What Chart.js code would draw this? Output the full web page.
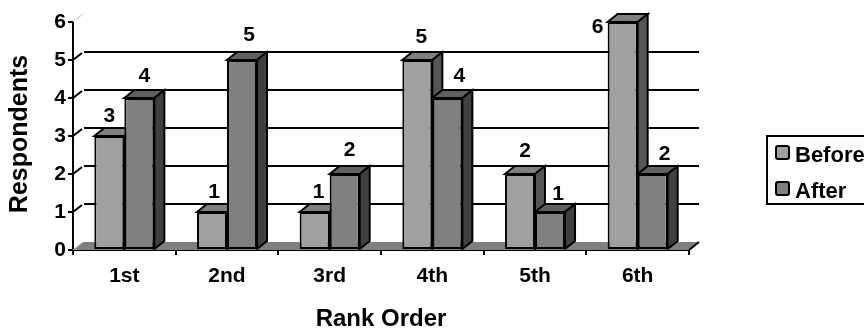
<!DOCTYPE html>
<html>
<head>
<meta charset="utf-8">
<title>Rank Order</title>
<script src="https://cdn.jsdelivr.net/npm/chart.js@4/dist/chart.umd.min.js"></script>
<style>
  html, body { margin: 0; padding: 0; background: #fff; overflow: hidden; }
  #wrap { width: 864px; height: 329px; }
</style>
</head>
<body>
<div id="wrap"><canvas id="rankChart"></canvas></div>
<script>
const rankLabels = ['1st', '2nd', '3rd', '4th', '5th', '6th'];
const beforeValues = [3, 1, 1, 5, 2, 6];
const afterValues = [4, 5, 2, 4, 1, 2];
const yTicks = [0, 1, 2, 3, 4, 5, 6];

const FONT = '"Liberation Sans", Arial, sans-serif';
const DEPTH_X = 10;
const DEPTH_Y = 8;

// Nudges for the value labels, relative to the top-centre of each bar
const beforeLabelShift = [[0, 1], [2, 1], [4, 1], [4, -2], [5, -2], [-25, 26]];
const afterLabelShift = [[5, -1], [7, -4], [5, -3], [12, -1], [8, 3], [12, 1]];

function polygon(ctx, pts, fill, stroke) {
    ctx.beginPath();
    pts.forEach((p, i) => i ? ctx.lineTo(p[0], p[1]) : ctx.moveTo(p[0], p[1]));
    ctx.closePath();
    ctx.fillStyle = fill;
    ctx.fill();
    if (stroke) {
        ctx.strokeStyle = stroke;
        ctx.lineWidth = 2;
        ctx.lineJoin = 'miter';
        ctx.stroke();
    }
}

// Back wall gridlines, wall ticks, floor and the 3D faces of the bars
const wallPlugin = {
    id: 'wall',
    beforeDatasetsDraw(chart) {
        const { ctx, chartArea: area, scales: { y } } = chart;
        const base = y.getPixelForValue(0);
        ctx.save();
        polygon(ctx, [[area.left, base], [area.left + DEPTH_X, base - DEPTH_Y],
            [area.right + DEPTH_X, base - DEPTH_Y], [area.right, base]], '#808080');
        ctx.strokeStyle = '#000';
        ctx.lineWidth = 2;
        yTicks.forEach(v => {
            const py = y.getPixelForValue(v);
            if (v > 0 && v < 6) {
                ctx.beginPath();
                ctx.moveTo(area.left + DEPTH_X + 1, py - DEPTH_Y);
                ctx.lineTo(area.right + DEPTH_X, py - DEPTH_Y);
                ctx.stroke();
                ctx.beginPath();
                ctx.moveTo(area.left, py);
                ctx.lineTo(area.left + DEPTH_X - 1, py - DEPTH_Y + 1);
                ctx.stroke();
            }
        });
        // faint corner marks at the top and bottom of the wall
        ctx.strokeStyle = '#c0c0c0';
        ctx.lineWidth = 1;
        [0, 6].forEach(v => {
            const py = y.getPixelForValue(v);
            ctx.beginPath();
            ctx.moveTo(area.left, py);
            ctx.lineTo(area.left + DEPTH_X, py - DEPTH_Y);
            ctx.stroke();
        });
        // floor edge at the right end
        ctx.strokeStyle = '#000';
        ctx.lineWidth = 2;
        ctx.beginPath();
        ctx.moveTo(area.right, base);
        ctx.lineTo(area.right + DEPTH_X, base - DEPTH_Y);
        ctx.stroke();

        // top and side faces, left series first so the right one overlaps it
        chart.data.datasets.forEach((ds, i) => {
            chart.getDatasetMeta(i).data.forEach(bar => {
                const l = bar.x - bar.width / 2;
                const r = bar.x + bar.width / 2;
                polygon(ctx, [[l, bar.y], [l + DEPTH_X, bar.y - DEPTH_Y],
                    [r + DEPTH_X, bar.y - DEPTH_Y], [r, bar.y]], ds.topColor, '#000');
                polygon(ctx, [[r, bar.y], [r + DEPTH_X, bar.y - DEPTH_Y],
                    [r + DEPTH_X, bar.base - DEPTH_Y], [r, bar.base]], ds.sideColor, '#000');
            });
        });
        ctx.restore();
    },
    afterDatasetsDraw(chart) {
        const { ctx } = chart;
        ctx.save();
        ctx.fillStyle = '#000';
        ctx.textAlign = 'center';
        ctx.textBaseline = 'middle';

        // value labels above the bars
        ctx.font = 'bold 21px ' + FONT;
        chart.data.datasets.forEach((ds, i) => {
            chart.getDatasetMeta(i).data.forEach((bar, j) => {
                const shift = ds.labelShift[j];
                ctx.fillText(String(ds.data[j]), bar.x + shift[0], bar.y - 21 + shift[1]);
            });
        });

        // axis titles
        ctx.font = 'bold 24px ' + FONT;
        ctx.fillText('Rank Order', 381, 319);
        ctx.font = 'bold 25px ' + FONT;
        ctx.translate(20, 134);
        ctx.rotate(-Math.PI / 2);
        ctx.fillText('Respondents', 0, 0);
        ctx.restore();

        // legend box, running off the right edge
        ctx.save();
        ctx.strokeStyle = '#000';
        ctx.lineWidth = 2;
        ctx.strokeRect(767, 136, 120, 68);
        ctx.font = 'bold 22px ' + FONT;
        ctx.textBaseline = 'alphabetic';
        chart.data.datasets.forEach((ds, i) => {
            const top = 146 + i * 36;
            ctx.beginPath();
            ctx.roundRect(776, top, 13, 13, 2);
            ctx.fillStyle = ds.backgroundColor;
            ctx.fill();
            ctx.stroke();
            ctx.fillStyle = '#000';
            ctx.fillText(ds.label, 795, top + 16);
        });
        ctx.restore();
    }
};

new Chart(document.getElementById('rankChart'), {
    type: 'bar',
    data: {
        labels: rankLabels,
        datasets: [
            {
                label: 'Before',
                data: beforeValues,
                backgroundColor: '#a0a0a0',
                topColor: '#808080',
                sideColor: '#555555',
                labelShift: beforeLabelShift
            },
            {
                label: 'After',
                data: afterValues,
                backgroundColor: '#808080',
                topColor: '#606060',
                sideColor: '#404040',
                labelShift: afterLabelShift
            }
        ]
    },
    options: {
        responsive: true,
        maintainAspectRatio: false,
        animation: false,
        layout: { padding: { left: 0, top: 22, right: 175, bottom: 0 } },
        datasets: {
            bar: {
                categoryPercentage: 0.585,
                barPercentage: 1,
                borderColor: '#000',
                borderWidth: 2,
                borderSkipped: false,
                clip: false
            }
        },
        plugins: {
            legend: { display: false },
            tooltip: { enabled: false }
        },
        scales: {
            x: {
                afterFit(scale) { scale.height = 79; },
                border: { color: '#000', width: 2 },
                grid: { drawOnChartArea: false, color: '#000', lineWidth: 2, tickLength: 5 },
                ticks: {
                    color: '#000',
                    padding: 9,
                    maxRotation: 0,
                    font: { family: FONT, size: 21, weight: 'bold' }
                }
            },
            y: {
                min: 0,
                max: 6,
                afterFit(scale) { scale.width = 73; },
                border: { color: '#000', width: 2 },
                grid: { drawOnChartArea: false, color: '#000', lineWidth: 2, tickLength: 5 },
                ticks: {
                    stepSize: 1,
                    color: '#000',
                    padding: 2,
                    font: { family: FONT, size: 21, weight: 'bold' }
                }
            }
        }
    },
    plugins: [wallPlugin]
});
</script>
</body>
</html>
